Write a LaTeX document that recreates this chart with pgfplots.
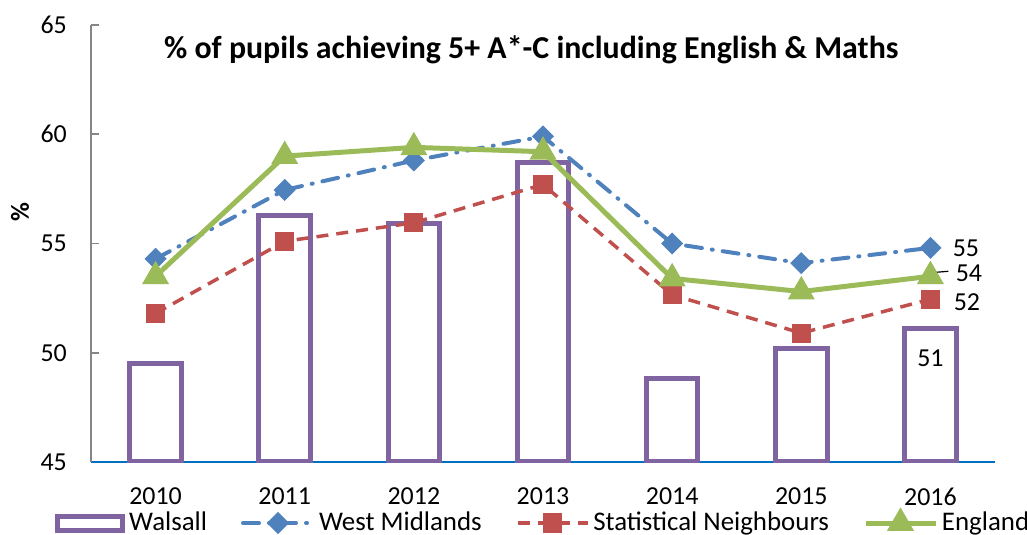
\documentclass[border=0pt]{standalone}
\usepackage{pgfplots}
\pgfplotsset{compat=1.18}
\usepackage{fontspec}
\setmainfont{Carlito}
\definecolor{wal}{HTML}{8064A2}
\definecolor{wm}{HTML}{4F81BD}
\definecolor{sn}{HTML}{C0504D}
\definecolor{eng}{HTML}{9BBB59}
\definecolor{xblue}{HTML}{0070C0}
\definecolor{agray}{HTML}{868686}
\newcommand\fs{\fontsize{13}{15.5}\selectfont}
\newcommand\lfs{\fontsize{13.5}{16}\selectfont}
\pgfplotsset{lineleg/.style={legend image code/.code={\draw[mark repeat=2,mark phase=2,##1] plot coordinates {(0bp,0bp) (17.5bp,0bp) (35bp,0bp)};}},
  boxleg/.style={legend image code/.code={\draw[draw=wal,fill=white,line width=2.5bp] (1.25bp,-3.5bp) rectangle (33.75bp,3.5bp);}}}
\begin{document}
\begin{tikzpicture}
\path[use as bounding box] (0bp,0bp) rectangle (513.5bp,267.5bp);
\begin{axis}[
  at={(45.5bp,36.5bp)}, anchor=south west,
  scale only axis, width=452bp, height=218.5bp,
  xmin=-0.5, xmax=6.5, ymin=45, ymax=65,
  axis x line*=bottom, axis y line*=left,
  x axis line style={draw=xblue, line width=1.2bp, -},
  y axis line style={draw=agray, line width=0.8bp, -},
  tick align=inside,
  xtick={0,1,2,3,4,5,6},
  xticklabels={2010,2011,2012,2013,2014,2015,2016},
  x tick style={draw=none},
  extra x ticks={-0.5,0.5,1.5,2.5,3.5,4.5,5.5,6.5},
  extra x tick labels={},
  extra x tick style={major tick length=4.5bp, tick style={draw=xblue, line width=1bp}},
  ytick={45,50,55,60,65},
  y tick style={draw=agray, line width=0.8bp},
  major tick length=4bp,
  /pgf/number format/assume math mode=true,
  ticklabel style={font=\fs},
  yticklabel style={xshift=-8.6bp},
  xticklabel style={yshift=-9.3bp},
  title={\textbf{\% of pupils achieving 5+ A*-C including English \& Maths}},
  title style={font=\fontsize{16}{19}\selectfont, at={(rel axis cs:0.487,0.917)}, anchor=center, yshift=0pt},
  legend columns=4,
  legend style={draw=none, fill=none, font=\lfs, at={(rel axis cs:-0.04,-0.1396)}, anchor=west,
    inner sep=0pt, /tikz/every even column/.append style={column sep=15bp}},
  legend cell align=left,
]
\addplot[ybar, bar width=0.4, bar shift=0pt, draw=wal, fill=white, line width=2.5bp, boxleg]
  coordinates {(0,49.5)(1,56.3)(2,55.9)(3,58.7)(4,48.8)(5,50.2)(6,51.1)};
\addlegendentry{Walsall}
\addplot[wm, line width=2bp, line cap=round, dash pattern=on 8bp off 5bp on 0.5bp off 5bp,
  mark=square*, mark size=2.9bp, mark options={solid, rotate=45}, lineleg]
  coordinates {(0,54.3)(1,57.45)(2,58.8)(3,59.9)(4,55.0)(5,54.1)(6,54.8)};
\addlegendentry{West Midlands}
\addplot[sn, line width=1.75bp, dash pattern=on 6bp off 4bp,
  mark=square*, mark size=3.9bp, mark options={solid}, lineleg]
  coordinates {(0,51.8)(1,55.1)(2,55.95)(3,57.7)(4,52.65)(5,50.9)(6,52.45)};
\addlegendentry{Statistical Neighbours}
\addplot[eng, line width=2.5bp, mark=triangle*, mark size=5.3bp, mark options={solid}, lineleg]
  coordinates {(0,53.5)(1,59.0)(2,59.4)(3,59.2)(4,53.4)(5,52.8)(6,53.5)};
\addlegendentry{England}
\node[font=\fs, anchor=west, inner sep=0pt] at (axis cs:6,54.78) [xshift=11bp] {55};
\node[font=\fs, anchor=west, inner sep=0pt] at (axis cs:6,53.66) [xshift=12.5bp] {54};
\node[font=\fs, anchor=west, inner sep=0pt] at (axis cs:6,52.3) [xshift=11.5bp] {52};
\node[font=\fs, anchor=center, inner sep=0pt] at (axis cs:6,49.75) {51};
\draw[black, line width=0.6bp] (axis cs:6,53.5) ++(1.5bp,0.5bp) -- ++(1.5bp,1.5bp) -- ++(6bp,0.5bp);
\end{axis}
\node[rotate=90, font=\fs, inner sep=0pt] at (10bp,161.5bp) {\textbf{\%}};
\end{tikzpicture}
\end{document}
